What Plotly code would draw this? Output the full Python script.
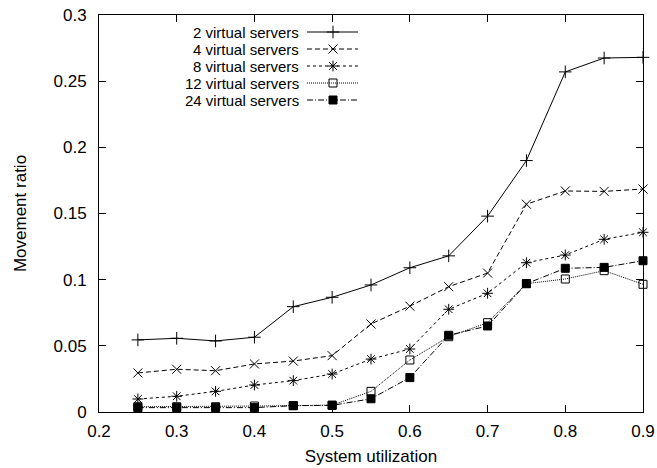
import plotly.graph_objects as go

utilization = [0.25, 0.30, 0.35, 0.40, 0.45, 0.50, 0.55, 0.60, 0.65, 0.70, 0.75, 0.80, 0.85, 0.90]
vs2 = [0.0545, 0.0557, 0.0537, 0.0565, 0.0796, 0.0867, 0.096, 0.109, 0.118, 0.148, 0.190, 0.257, 0.2675, 0.268]
vs4 = [0.0295, 0.0323, 0.0312, 0.0363, 0.0385, 0.0426, 0.0665, 0.080, 0.0947, 0.105, 0.157, 0.167, 0.1667, 0.1685]
vs8 = [0.0098, 0.0119, 0.0156, 0.0204, 0.0237, 0.0287, 0.040, 0.0476, 0.0776, 0.0897, 0.1128, 0.1186, 0.1305, 0.1358]
vs12 = [0.0040, 0.0040, 0.0040, 0.0045, 0.0048, 0.0052, 0.0156, 0.0393, 0.0569, 0.0675, 0.097, 0.1005, 0.1068, 0.0965]
vs24 = [0.0033, 0.0033, 0.0033, 0.0033, 0.0048, 0.0050, 0.010, 0.026, 0.058, 0.065, 0.097, 0.1086, 0.1093, 0.1143]
names = ["2 virtual servers", "4 virtual servers", "8 virtual servers", "12 virtual servers", "24 virtual servers"]
x_ticks = [0.2, 0.3, 0.4, 0.5, 0.6, 0.7, 0.8, 0.9]
y_ticks = [0, 0.05, 0.1, 0.15, 0.2, 0.25, 0.3]

series = [vs2, vs4, vs8, vs12, vs24]
dashes = ["solid", "5px,3px", "3px,3px", "1px,1px", "6px,2px,1px,2px"]
symbols = ["cross-thin-open", "x-thin-open", "asterisk-open", "square-open", "square"]
sizes = [9, 9, 9, 8, 8]

FONT = "Liberation Sans, Arial, Helvetica, sans-serif"
FS = 17
fig = go.Figure()

for ys, dash, sym, sz, nm in zip(series, dashes, symbols, sizes, names):
    fig.add_trace(go.Scatter(
        x=utilization, y=ys, mode="lines+markers", name=nm, showlegend=False,
        line=dict(color="black", width=1, dash=dash),
        marker=dict(symbol=sym, size=sz, color="black", line=dict(color="black", width=1)),
        cliponaxis=False,
    ))

# custom legend (text left, sample right) on an overlay pixel-like axis
legend_rows = [32, 49, 66, 83, 100]
for i, (dash, sym, sz, nm) in enumerate(zip(dashes, symbols, sizes, names)):
    yrow = legend_rows[i]
    fig.add_trace(go.Scatter(
        x=[307, 358], y=[yrow, yrow], xaxis="x2", yaxis="y2", mode="lines",
        line=dict(color="black", width=1, dash=dash), showlegend=False, hoverinfo="skip",
    ))
    fig.add_trace(go.Scatter(
        x=[333], y=[yrow], xaxis="x2", yaxis="y2", mode="markers",
        marker=dict(symbol=sym, size=sz, color="black", line=dict(color="black", width=1)),
        showlegend=False, hoverinfo="skip",
    ))
    fig.add_annotation(
        x=300, y=yrow, xref="x2", yref="y2", text=nm, showarrow=False,
        xanchor="right", yanchor="middle", borderpad=0,
        font=dict(family=FONT, size=15, color="black"),
    )

axis_common = dict(
    showline=True, linecolor="black", linewidth=1, mirror="allticks",
    ticks="inside", ticklen=7, tickwidth=1, tickcolor="black",
    showgrid=False, zeroline=False, automargin=False,
    tickfont=dict(family=FONT, size=FS, color="black"),
)

fig.update_layout(
    width=657, height=468,
    margin=dict(l=99, r=14, t=15, b=56),
    paper_bgcolor="white", plot_bgcolor="white",
    xaxis=dict(range=[0.2, 0.9], tickvals=x_ticks,
               ticktext=[f"{v:g}" for v in x_ticks],
               ticklabelstandoff=4,
               title=dict(text="System utilization", font=dict(family=FONT, size=FS, color="black"), standoff=9),
               **axis_common),
    yaxis=dict(range=[0, 0.3], tickvals=y_ticks,
               ticktext=[f"{v:g}" for v in y_ticks],
               ticklabelstandoff=8,
               title=dict(text="Movement ratio", font=dict(family=FONT, size=FS, color="black"), standoff=22),
               **axis_common),
    xaxis2=dict(overlaying="x", range=[99, 643], visible=False, fixedrange=True),
    yaxis2=dict(overlaying="y", range=[412, 15], visible=False, fixedrange=True),
    showlegend=False,
)

fig.write_html("out.html")
